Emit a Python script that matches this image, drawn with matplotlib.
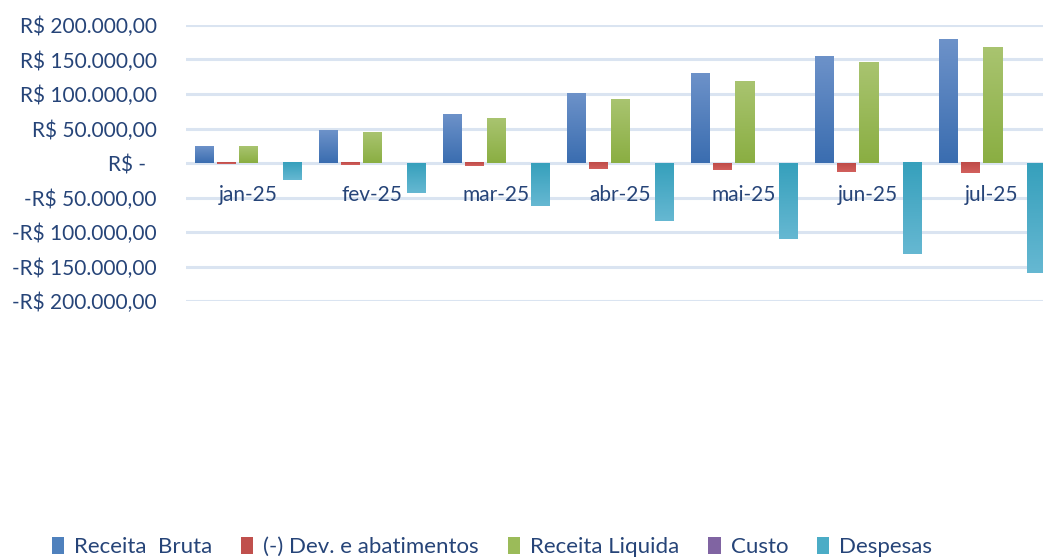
import numpy as np
import matplotlib
matplotlib.use("Agg")
import matplotlib.pyplot as plt
from matplotlib.colors import LinearSegmentedColormap
from matplotlib.ticker import FuncFormatter

months = ["jan-25", "fev-25", "mar-25", "abr-25", "mai-25", "jun-25", "jul-25"]
receita_bruta = [24600, 47800, 71000, 101400, 129000, 155000, 179700]
devolucoes = [-2000, -3500, -5000, -9000, -10000, -13000, -14500]
receita_liquida = [23200, 43500, 65200, 92700, 118800, 145000, 166700]
custo = [0, 0, 0, 0, 0, 0, 0]
despesas = [-25000, -43000, -62000, -84000, -110000, -132000, -159000]
series_names = ["Receita  Bruta", "(-) Dev. e abatimentos", "Receita Liquida", "Custo", "Despesas"]
yticks = [-200000, -150000, -100000, -50000, 0, 50000, 100000, 150000, 200000]

series = [receita_bruta, devolucoes, receita_liquida, custo, despesas]
mid_colors = ["#4F81BD", "#C0504D", "#9BBB59", "#8064A2", "#4BACC6"]
# (color at axis, color at far end)
grad_colors = [("#3A6DB0", "#6D92C9"), ("#BE4B48", "#D2605D"), ("#8AAE42", "#A9C470"),
               ("#7358A0", "#8E74B0"), ("#36A0BC", "#66B8D2")]

text_color = "#264478"
grid_color = "#DAE4F1"
font = "Lato"

fig = plt.figure(figsize=(10.43, 5.57), dpi=100)
ax = fig.add_axes([186/1043, 1 - 301/557, 868/1043, 276/557])

n = len(months)
x = np.arange(n) + 0.5
step = 22/124
width = 19/124
handles = []
for k, (vals, name) in enumerate(zip(series, series_names)):
    bars = ax.bar(x + (k - 2) * step, vals, width=width, color=mid_colors[k],
                  label=name, zorder=3, linewidth=0)
    handles.append(bars)
    cmap = LinearSegmentedColormap.from_list(f"g{k}", list(grad_colors[k]))
    grad = np.linspace(0, 1, 256).reshape(-1, 1)
    for b in bars:
        h = b.get_height()
        if h == 0:
            continue
        x0 = b.get_x()
        ax.imshow(grad, extent=[x0, x0 + b.get_width(), 0, h], origin="lower",
                  aspect="auto", cmap=cmap, zorder=4, interpolation="bilinear")

ax.set_xlim(0, n)
ax.set_ylim(-200000, 200000)
ax.set_yticks(yticks)
for yv in yticks:
    ax.axhline(yv, color=grid_color, linewidth=2.2, zorder=1)


def fmt(v, pos):
    if v == 0:
        return "R$ -  "
    s = f"{abs(v):,.2f}".replace(",", "X").replace(".", ",").replace("X", ".")
    return ("-R$ " if v < 0 else "R$ ") + s


ax.yaxis.set_major_formatter(FuncFormatter(fmt))
ax.set_xticks(x)
ax.set_xticklabels(months)
ax.spines["bottom"].set_position(("data", 0))
for s in ax.spines.values():
    s.set_visible(False)
ax.tick_params(axis="x", length=0, pad=16, labelsize=15, labelcolor=text_color)
ax.tick_params(axis="y", length=0, pad=21, labelsize=15, labelcolor=text_color)
for lab in ax.get_xticklabels() + ax.get_yticklabels():
    lab.set_fontfamily(font)

leg = fig.legend(handles=handles, loc="center", bbox_to_anchor=(492/1043, 1 - 547/557),
                 ncol=5, frameon=False, handlelength=0.55, handleheight=0.85,
                 handletextpad=0.45, columnspacing=1.3, prop={"family": font, "size": 16})
for t in leg.get_texts():
    t.set_color(text_color)

fig.savefig("out.png", dpi=100)
